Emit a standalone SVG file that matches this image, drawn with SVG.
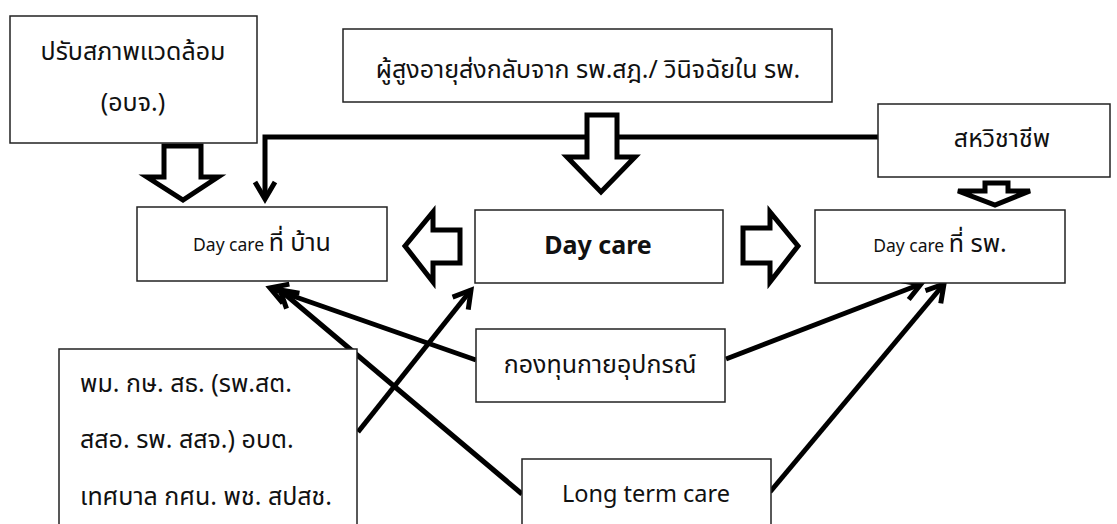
<svg xmlns="http://www.w3.org/2000/svg" width="1117" height="524" viewBox="0 0 1117 524">
<defs>
<style>
.box{fill:#fff;stroke:#222;stroke-width:1.5}
.t{font-family:"Noto Sans","Noto Sans Thai","Open Sans",sans-serif;font-size:25px;fill:#111}
.s{font-size:17.5px}
.l{font-size:23.5px}
.b{font-weight:bold;font-size:25px}
.con{fill:none;stroke:#000;stroke-width:5;marker-end:url(#ah)}
.blk{fill:#fff;stroke:#000;stroke-width:5;stroke-linejoin:miter}
</style>
<marker id="ah" markerUnits="userSpaceOnUse" viewBox="-20 -12 24 24" markerWidth="24" markerHeight="24" refX="0" refY="0" orient="auto" overflow="visible">
<path d="M-17,-10 L0,0 L-17,10" fill="none" stroke="#000" stroke-width="5"/>
</marker>
</defs>
<rect width="1117" height="524" fill="#fff"/>
<g id="connectors">
<path class="con" d="M878,137 L265,137 L265,199"/>
<path class="con" d="M476,360 L270,288"/>
<path class="con" d="M522,494 L280,290"/>
<path class="con" d="M358,432 L471,290"/>
<path class="con" d="M726,359 L921,284"/>
<path class="con" d="M770,492 L944,284"/>
<polygon class="blk" points="164,146 201,146 201,177 218,177 183,200 147,177 164,177"/>
<polygon class="blk" points="587,115 617,115 617,157 635,157 601,192 567,157 587,157"/>
<polygon class="blk" points="460,230 460,263 433,263 433,282 405,246 433,212 433,230"/>
<polygon class="blk" points="743,228 743,263 770,263 770,282 798,246 770,212 770,228"/>
<polygon class="blk" stroke-width="6" points="985,183 1008,183 1008,191 1030,191 995,205 958,191 985,191"/>
</g>
<g id="n-env">
<rect class="box" x="10" y="16" width="247" height="127"/>
<text class="t" x="133" y="60" text-anchor="middle">ปรับสภาพแวดล้อม</text>
<text class="t" x="133" y="111" text-anchor="middle">(อบจ.)</text>
</g>
<g id="n-elder">
<rect class="box" x="343" y="29" width="489" height="73"/>
<text class="t" x="588" y="78" text-anchor="middle">ผู้สูงอายุส่งกลับจาก รพ.สฎ./ วินิจฉัยใน รพ.</text>
</g>
<g id="n-multi">
<rect class="box" x="878" y="104" width="232" height="73"/>
<text class="t" x="1002" y="147" text-anchor="middle">สหวิชาชีพ</text>
</g>
<g id="n-home">
<rect class="box" x="137" y="207" width="250" height="74"/>
<text class="t" x="262" y="251" text-anchor="middle"><tspan class="s">Day care </tspan>ที่ บ้าน</text>
</g>
<g id="n-daycare">
<rect class="box" x="475" y="210" width="248" height="73"/>
<text class="t b" x="598" y="254" text-anchor="middle">Day care</text>
</g>
<g id="n-hosp">
<rect class="box" x="815" y="210" width="250" height="73"/>
<text class="t" x="940" y="252" text-anchor="middle"><tspan class="s">Day care </tspan>ที่ รพ.</text>
</g>
<g id="n-fund">
<rect class="box" x="476" y="329" width="249" height="73"/>
<text class="t" x="600" y="373" text-anchor="middle">กองทุนกายอุปกรณ์</text>
</g>
<g id="n-ltc">
<rect class="box" x="522" y="459" width="249" height="70"/>
<text class="t l" x="646" y="502" text-anchor="middle">Long term care</text>
</g>
<g id="n-agencies">
<rect class="box" x="59" y="349" width="298" height="180"/>
<text class="t" x="80" y="392">พม. กษ. สธ. (รพ.สต.</text>
<text class="t" x="80" y="448">สสอ. รพ. สสจ.) อบต.</text>
<text class="t" x="80" y="505">เทศบาล กศน. พช. สปสช.</text>
</g>
</svg>
